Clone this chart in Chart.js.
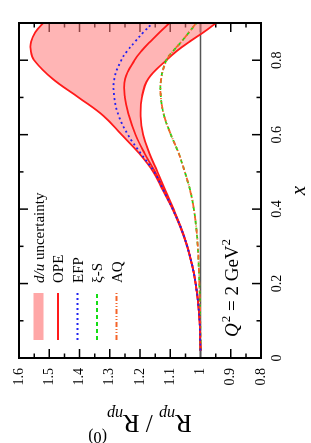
<!DOCTYPE html>
<html>
<head>
<meta charset="utf-8">
<script src="https://cdn.jsdelivr.net/npm/chart.js@4.4.1/dist/chart.umd.min.js"></script>
<style>
  html, body { margin:0; padding:0; background:#fff; overflow:hidden; }
  #wrap { position:absolute; left:0; top:0; width:443px; height:311px;
          transform-origin:0 0; transform: translate(0px, 443px) rotate(-90deg); }
  canvas { display:block; }
</style>
</head>
<body>
<div id="wrap"><canvas id="c" width="443" height="311"></canvas></div>
<script>
// ---- data ----
const xVals    = [0.02, 0.05, 0.1, 0.15, 0.2, 0.25, 0.3, 0.35, 0.4, 0.45, 0.5, 0.55, 0.6, 0.65, 0.7, 0.75, 0.8, 0.825, 0.85, 0.875, 0.9];
const bandHigh = [1.000, 1.001, 1.003, 1.008, 1.016, 1.028, 1.044, 1.066, 1.092, 1.124, 1.156, 1.203, 1.261, 1.320, 1.403, 1.489, 1.550, 1.561, 1.560, 1.546, 1.520];
const bandLow  = [1.000, 1.001, 1.003, 1.008, 1.016, 1.028, 1.043, 1.064, 1.089, 1.116, 1.142, 1.169, 1.190, 1.198, 1.194, 1.173, 1.113, 1.078, 1.036, 0.990, 0.948];
const opeVals  = [1.000, 1.001, 1.003, 1.008, 1.016, 1.028, 1.044, 1.065, 1.091, 1.120, 1.150, 1.185, 1.215, 1.236, 1.250, 1.249, 1.218, 1.195, 1.166, 1.135, 1.102];
const efpVals  = [1.000, 1.001, 1.003, 1.008, 1.016, 1.028, 1.044, 1.065, 1.092, 1.122, 1.153, 1.198, 1.240, 1.270, 1.285, 1.285, 1.262, 1.242, 1.216, 1.189, 1.158];
const xiSVals  = [1.000, 1.000, 1.001, 1.002, 1.004, 1.006, 1.009, 1.014, 1.022, 1.034, 1.052, 1.072, 1.098, 1.120, 1.131, 1.130, 1.113, 1.090, 1.063, 1.038, 1.013];
const aqVals   = [1.000, 1.000, 1.001, 1.002, 1.004, 1.006, 1.009, 1.014, 1.022, 1.034, 1.052, 1.072, 1.098, 1.120, 1.131, 1.130, 1.112, 1.090, 1.063, 1.038, 1.014];
const refX     = [0, 0.9];
const refY     = [1, 1];

const xTicks      = [0, 0.2, 0.4, 0.6, 0.8];
const xTickLabels = ['0', '0.2', '0.4', '0.6', '0.8'];
const xMinor      = [0.1, 0.3, 0.5, 0.7];
const yTicks      = [0.8, 0.9, 1.0, 1.1, 1.2, 1.3, 1.4, 1.5, 1.6];
const yTickLabels = ['0.8', '0.9', '1', '1.1', '1.2', '1.3', '1.4', '1.5', '1.6'];
const yMinor      = [0.85, 0.95, 1.05, 1.15, 1.25, 1.35, 1.45, 1.55];
const legendNames = ['d/u uncertainty', 'OPE', 'EFP', 'ξ-S', 'AQ'];

// ---- styles ----
const RED = '#ff1a1a', BLUE = '#2020f0', GREEN = '#14dc14', ORANGE = '#f5642a';
const PINK = 'rgba(255,120,120,0.55)';
const SERIF = '"Liberation Serif", "DejaVu Serif", serif';

const pts = (xs, ys) => xs.map((x, i) => ({x: x, y: ys[i]}));

const common = { pointRadius: 0, borderWidth: 1.8, tension: 0.4, fill: false };

const datasets = [
  Object.assign({}, common, { label: 'ref', data: pts(refX, refY), borderColor: '#555', borderWidth: 1.5, tension: 0, order: 10 }),
  Object.assign({}, common, { label: 'band high', data: pts(xVals, bandHigh), borderColor: RED, backgroundColor: PINK, fill: '+1', order: 9 }),
  Object.assign({}, common, { label: 'band low', data: pts(xVals, bandLow), borderColor: RED, order: 8 }),
  Object.assign({}, common, { label: 'ξ-S', data: pts(xVals, xiSVals), borderColor: GREEN, borderDash: [4, 3], order: 5 }),
  Object.assign({}, common, { label: 'AQ', data: pts(xVals, aqVals), borderColor: ORANGE, borderDash: [5, 2, 1, 2, 1, 2], order: 4 }),
  Object.assign({}, common, { label: 'OPE', data: pts(xVals, opeVals), borderColor: RED, order: 3 }),
  Object.assign({}, common, { label: 'EFP', data: pts(xVals, efpVals), borderColor: BLUE, borderDash: [2, 3], order: 1 })
];

function rich(ctx, segs, x, y, align) {
  let w = 0;
  segs.forEach(s => { ctx.font = s.font; s.w = ctx.measureText(s.t).width + (s.gap || 0); w += s.w; });
  let cx = align === 'center' ? x - w / 2 : x;
  segs.forEach(s => { ctx.font = s.font; ctx.fillText(s.t, cx, y + (s.dy || 0)); cx += s.w; });
}

const decor = {
  id: 'decor',
  beforeDatasetsDraw(chart) {
    const {ctx, chartArea: a, scales: {x, y}} = chart;
    ctx.save();
    ctx.strokeStyle = '#000';
    ctx.lineWidth = 1.5;
    const tick = (px, len, vertical) => {
      ctx.beginPath();
      if (vertical) {
        ctx.moveTo(px, a.bottom); ctx.lineTo(px, a.bottom - len);
        ctx.moveTo(px, a.top); ctx.lineTo(px, a.top + len);
      } else {
        ctx.moveTo(a.left, px); ctx.lineTo(a.left + len, px);
        ctx.moveTo(a.right, px); ctx.lineTo(a.right - len, px);
      }
      ctx.stroke();
    };
    xTicks.forEach(v => tick(x.getPixelForValue(v), 9, true));
    xMinor.forEach(v => tick(x.getPixelForValue(v), 4.5, true));
    yTicks.forEach(v => tick(y.getPixelForValue(v), 9, false));
    yMinor.forEach(v => tick(y.getPixelForValue(v), 4.5, false));
    ctx.restore();
  },
  afterDraw(chart) {
    const {ctx, chartArea: a} = chart;
    ctx.save();
    // frame
    ctx.strokeStyle = '#000';
    ctx.lineWidth = 2;
    ctx.strokeRect(a.left, a.top, a.right - a.left, a.bottom - a.top);

    // legend
    ctx.fillStyle = '#000';
    ctx.textBaseline = 'alphabetic';
    ctx.textAlign = 'left';
    const rows = [38.5, 58, 77.5, 97, 116.5];
    const sx0 = 103, sx1 = 150, tx = 160;
    ctx.fillStyle = 'rgba(255,130,130,0.7)';
    ctx.fillRect(sx0, rows[0] - 5, sx1 - sx0, 10);
    const lineStyles = [
      {c: RED, d: []}, {c: BLUE, d: [2, 3]}, {c: GREEN, d: [4, 3]}, {c: ORANGE, d: [5, 2, 1, 2, 1, 2]}
    ];
    lineStyles.forEach((s, i) => {
      ctx.beginPath();
      ctx.strokeStyle = s.c; ctx.lineWidth = 1.8; ctx.setLineDash(s.d);
      ctx.moveTo(sx0, rows[i + 1]); ctx.lineTo(sx1, rows[i + 1]); ctx.stroke();
    });
    ctx.setLineDash([]);
    ctx.fillStyle = '#000';
    const f15 = '15px ' + SERIF, f15i = 'italic 15px ' + SERIF;
    const du = legendNames[0].split(' ');
    rich(ctx, [{t: du[0], font: f15i}, {t: ' ' + du.slice(1).join(' '), font: f15}], tx, rows[0] + 5, 'left');
    for (let i = 1; i < legendNames.length; i++) {
      ctx.font = f15;
      ctx.fillText(legendNames[i], tx, rows[i] + 5);
    }

    // Q^2 annotation
    const f19 = '19px ' + SERIF, f19i = 'italic 19px ' + SERIF, f13 = '13px ' + SERIF;
    rich(ctx, [
      {t: 'Q', font: f19i, gap: 1},
      {t: '2', font: f13, dy: -8},
      {t: ' = 2 GeV', font: f19},
      {t: '2', font: f13, dy: -8}
    ], 106, 238, 'left');

    // x-axis title
    ctx.font = 'italic 21px ' + SERIF;
    ctx.textAlign = 'center';
    ctx.fillText('x', (a.left + a.right) / 2, 305);

    // y-axis title (rotated)
    ctx.textAlign = 'left';
    ctx.translate(28, (a.top + a.bottom) / 2);
    ctx.rotate(-Math.PI / 2);
    const f25 = '25px ' + SERIF, f16i = 'italic 16px ' + SERIF, f16 = '16px ' + SERIF;
    rich(ctx, [
      {t: 'R', font: f25},
      {t: 'np', font: f16i, dy: 6},
      {t: ' / ', font: f25},
      {t: 'R', font: f25},
      {t: 'np', font: f16i, dy: 6},
      {t: '(0)', font: f16, dy: -17}
    ], 0, 0, 'center');
    ctx.restore();
  }
};

new Chart(document.getElementById('c'), {
  type: 'line',
  data: { datasets: datasets },
  options: {
    responsive: false,
    animation: false,
    events: [],
    layout: { padding: { top: 19, right: 23, left: 0, bottom: 0 } },
    plugins: { legend: { display: false }, tooltip: { enabled: false }, title: { display: false } },
    scales: {
      x: {
        type: 'linear', min: 0, max: 0.9,
        grid: { display: false, drawTicks: false },
        border: { display: false },
        afterBuildTicks: s => { s.ticks = xTicks.map(v => ({value: v})); },
        afterFit: s => { s.height = 50; },
        ticks: {
          padding: 8, minRotation: 0, maxRotation: 0, color: '#000',
          font: { family: SERIF, size: 14 },
          callback: (v, i) => xTickLabels[i]
        }
      },
      y: {
        type: 'linear', min: 0.8, max: 1.6,
        grid: { display: false, drawTicks: false },
        border: { display: false },
        afterBuildTicks: s => { s.ticks = yTicks.map(v => ({value: v})); },
        afterFit: s => { s.width = 85; },
        ticks: {
          padding: 10, color: '#000',
          font: { family: SERIF, size: 14 },
          callback: (v, i) => yTickLabels[i]
        }
      }
    }
  },
  plugins: [decor]
});
</script>
</body>
</html>
